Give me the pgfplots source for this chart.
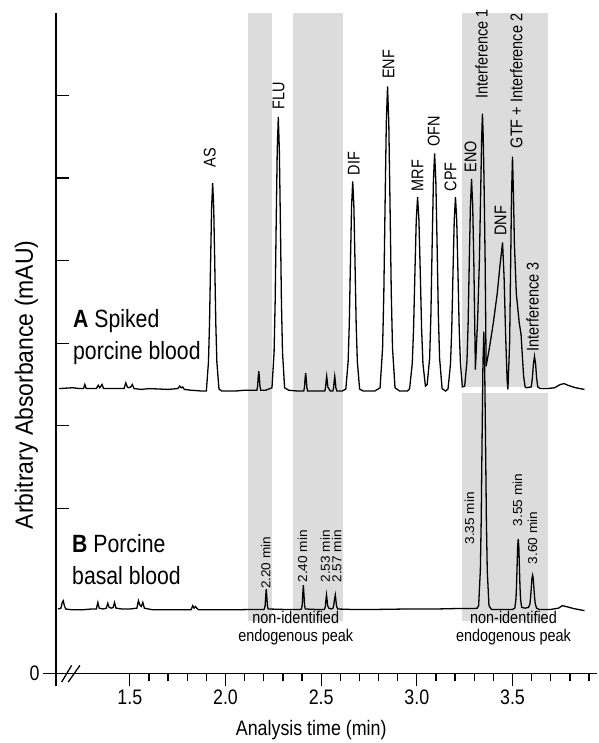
\documentclass[border=0pt]{standalone}
\usepackage{fontspec}
\setmainfont{Liberation Sans}[FakeStretch=0.85]
\newfontfamily\ylabfont{Liberation Sans}[FakeStretch=0.92]
\newfontfamily\minfont{Liberation Sans}[FakeStretch=1.05]
\usepackage{pgfplots}
\pgfplotsset{compat=1.18}

\definecolor{shade}{RGB}{220,220,220}
\newcommand\bigf{\fontsize{25bp}{30bp}\selectfont}
\newcommand\tickf{\fontsize{21bp}{25bp}\selectfont}
\newcommand\labf{\fontsize{17bp}{18bp}\selectfont}
\newcommand\minf{\minfont\fontsize{13bp}{15bp}\selectfont}

\begin{document}
\begin{tikzpicture}
\begin{axis}[
    scale only axis,
    width=542bp, height=661bp,
    xmin=1.114, xmax=3.944,
    ymin=0, ymax=8,
    clip=false,
    axis x line=bottom, axis y line=left,
    axis line style={-, line width=1.5bp},
    every tick/.style={black, line width=1.3bp},
    xtick={1.5,2,2.5,3,3.5},
    xticklabels={1.5,2.0,2.5,3.0,3.5},
    minor xtick={1.6,1.7,1.8,1.9,2.1,2.2,2.3,2.4,2.6,2.7,2.8,2.9,3.1,3.2,3.3,3.4,3.6,3.7,3.8,3.9},
    xtick align=outside,
    major tick length=13bp, minor tick length=8bp,
    extra x ticks={1.114}, extra x tick labels={},
    ytick={2,3,4,5,6,7}, yticklabels={},
    ytick align=inside,
    extra y ticks={0}, extra y tick labels={0},
    extra y tick style={ytick align=outside},
    tick label style={font=\tickf},
    xlabel={Analysis time (min)},
    xlabel style={font=\tickf, at={(axis description cs:0.4714,-0.0938)}, anchor=base},
    ylabel={Arbitrary Absorbance (mAU)},
    ylabel style={font=\ylabfont\fontsize{25bp}{30bp}\selectfont, at={(axis description cs:-0.0424,0.437)}, anchor=base},
]
% shaded windows
\addplot[fill=shade, draw=none] coordinates {(2.116,0.63) (2.241,0.63) (2.241,8) (2.116,8)} -- cycle;
\addplot[fill=shade, draw=none] coordinates {(2.351,0.63) (2.612,0.63) (2.612,8) (2.351,8)} -- cycle;
\addplot[fill=shade, draw=none] coordinates {(3.234,3.47) (3.688,3.47) (3.688,8) (3.234,8)} -- cycle;
\addplot[fill=shade, draw=none] coordinates {(3.234,0.63) (3.688,0.63) (3.688,3.40) (3.234,3.40)} -- cycle;

% A: spiked porcine blood
\addplot[black, line width=1.3bp, mark=none] coordinates {
(1.13,3.45) (1.20,3.46) (1.24,3.45) (1.258,3.45) (1.265,3.50) (1.272,3.45) (1.30,3.45)
(1.325,3.45) (1.335,3.49) (1.343,3.46) (1.355,3.50) (1.363,3.45) (1.40,3.45) (1.44,3.45)
(1.47,3.45) (1.479,3.52) (1.487,3.47) (1.495,3.46) (1.505,3.47) (1.513,3.50) (1.522,3.45)
(1.56,3.44) (1.60,3.45) (1.70,3.44) (1.75,3.45) (1.761,3.48) (1.768,3.46) (1.776,3.47)
(1.785,3.44) (1.82,3.43) (1.88,3.42) (1.90,3.42)
(1.911,3.77) (1.9165,4.23) (1.922,4.96) (1.9275,5.64) (1.933,5.94) (1.9385,5.64)
(1.944,4.96) (1.9495,4.23) (1.955,3.77) (1.966,3.445)
(1.98,3.42) (2.05,3.42) (2.10,3.43) (2.15,3.43)
(2.164,3.43) (2.168,3.48) (2.171,3.59) (2.174,3.66) (2.177,3.59) (2.180,3.48) (2.184,3.43)
(2.21,3.43) (2.243,3.46)
(2.254,3.89) (2.2595,4.49) (2.265,5.45) (2.2705,6.34) (2.276,6.74) (2.2815,6.34)
(2.287,5.45) (2.2925,4.49) (2.298,3.89) (2.309,3.46) (2.33,3.43)
(2.38,3.42) (2.409,3.42) (2.413,3.47) (2.416,3.57) (2.419,3.64) (2.422,3.57) (2.425,3.47) (2.429,3.42)
(2.47,3.42) (2.519,3.42) (2.523,3.46) (2.526,3.54) (2.529,3.60) (2.532,3.54) (2.535,3.47)
(2.540,3.45) (2.548,3.42) (2.561,3.42) (2.565,3.46) (2.568,3.54) (2.571,3.60) (2.574,3.54)
(2.577,3.46) (2.582,3.42) (2.61,3.42) (2.629,3.445)
(2.641,3.78) (2.647,4.23) (2.653,4.97) (2.659,5.66) (2.665,5.96) (2.671,5.66)
(2.677,4.97) (2.683,4.23) (2.689,3.78) (2.701,3.445)
(2.72,3.42) (2.78,3.42) (2.808,3.46)
(2.821,3.94) (2.8275,4.60) (2.834,5.67) (2.8405,6.67) (2.847,7.11) (2.8535,6.67)
(2.860,5.67) (2.8665,4.60) (2.873,3.94) (2.886,3.46)
(2.91,3.42) (2.95,3.42) (2.962,3.445)
(2.976,3.75) (2.983,4.17) (2.990,4.85) (2.997,5.49) (3.004,5.77) (3.011,5.49)
(3.018,4.85) (3.025,4.17) (3.032,3.75) (3.045,3.48) (3.054,3.50)
(3.067,3.82) (3.0735,4.34) (3.080,5.18) (3.0865,5.95) (3.093,6.30) (3.0995,5.95)
(3.106,5.18) (3.1125,4.34) (3.119,3.82) (3.132,3.45)
(3.15,3.42) (3.163,3.445)
(3.176,3.75) (3.1825,4.17) (3.189,4.85) (3.1955,5.49) (3.202,5.77) (3.2085,5.49)
(3.215,4.85) (3.2215,4.17) (3.228,3.75) (3.238,3.47) (3.250,3.48)
(3.262,3.78) (3.268,4.23) (3.274,4.97) (3.280,5.66) (3.286,5.99) (3.292,5.66) (3.298,4.97)
(3.306,3.68) (3.318,4.30) (3.327,5.00) (3.335,6.00) (3.339,6.50) (3.343,6.78) (3.347,6.50)
(3.351,6.00) (3.357,5.00) (3.362,3.72)
(3.38,3.95) (3.40,4.25) (3.42,4.60) (3.435,4.95) (3.448,5.22) (3.456,4.80) (3.464,4.10)
(3.472,3.55) (3.476,3.44)
(3.485,4.00) (3.490,4.90) (3.495,5.80) (3.500,6.26) (3.505,5.80) (3.510,5.20) (3.520,4.60)
(3.535,4.25) (3.545,4.10) (3.550,3.90) (3.558,3.60) (3.566,3.47) (3.573,3.46)
(3.598,3.47) (3.604,3.58) (3.609,3.74) (3.615,3.84) (3.621,3.74) (3.626,3.58) (3.632,3.47)
(3.645,3.45) (3.68,3.45) (3.72,3.46) (3.75,3.50) (3.77,3.51) (3.79,3.49) (3.83,3.46) (3.876,3.44)
};

% B: porcine basal blood
\addplot[black, line width=1.3bp, mark=none] coordinates {
(1.125,0.78) (1.14,0.79) (1.147,0.86) (1.152,0.88) (1.158,0.82) (1.165,0.78) (1.20,0.77)
(1.25,0.77) (1.30,0.78) (1.325,0.78) (1.333,0.86) (1.34,0.79) (1.36,0.78) (1.377,0.79)
(1.385,0.85) (1.392,0.80) (1.405,0.79) (1.413,0.80) (1.42,0.86) (1.428,0.79) (1.46,0.78)
(1.50,0.78) (1.537,0.79) (1.545,0.88) (1.552,0.83) (1.56,0.81) (1.568,0.86) (1.576,0.79)
(1.62,0.77) (1.70,0.77) (1.78,0.77) (1.82,0.77) (1.829,0.82) (1.836,0.79) (1.843,0.81)
(1.85,0.79) (1.86,0.77) (1.95,0.77) (2.05,0.77) (2.15,0.775) (2.20,0.775)
(2.203,0.78) (2.207,0.82) (2.210,0.93) (2.213,1.02) (2.216,0.93) (2.219,0.82) (2.223,0.78)
(2.30,0.775) (2.39,0.775)
(2.397,0.78) (2.401,0.83) (2.404,0.96) (2.407,1.07) (2.410,0.96) (2.413,0.83) (2.417,0.78)
(2.47,0.775) (2.515,0.775)
(2.518,0.78) (2.522,0.81) (2.525,0.89) (2.528,0.95) (2.531,0.89) (2.534,0.82) (2.540,0.79)
(2.552,0.78) (2.562,0.79) (2.566,0.83) (2.570,0.90) (2.574,0.95) (2.577,0.89) (2.580,0.82)
(2.586,0.78) (2.65,0.775) (2.80,0.775) (2.95,0.78) (3.10,0.78) (3.20,0.785) (3.30,0.785)
(3.315,0.79) (3.323,0.82)
(3.332,1.25) (3.3365,1.86) (3.341,2.83) (3.3455,3.74) (3.350,4.14) (3.3545,3.74)
(3.359,2.83) (3.3635,1.86) (3.368,1.25) (3.377,0.82)
(3.39,0.775) (3.45,0.775) (3.50,0.775) (3.512,0.79)
(3.518,0.90) (3.521,1.06) (3.524,1.30) (3.527,1.54) (3.530,1.63) (3.533,1.54) (3.536,1.30)
(3.539,1.06) (3.542,0.90) (3.548,0.80)
(3.565,0.79) (3.584,0.80) (3.591,0.84) (3.5945,0.92) (3.598,1.03) (3.6015,1.15) (3.605,1.19)
(3.6085,1.15) (3.612,1.03) (3.6155,0.92) (3.619,0.84) (3.626,0.79)
(3.64,0.775) (3.70,0.775) (3.74,0.79) (3.76,0.82) (3.78,0.81) (3.82,0.785) (3.876,0.76)
};

% axis break
\draw[line width=1.3bp] (axis cs:1.1438,-0.105) -- (axis cs:1.196,0.097);
\draw[line width=1.3bp] (axis cs:1.178,-0.105) -- (axis cs:1.2393,0.097);

% trace titles
\node[anchor=base west, font=\bigf, inner sep=0pt] at (axis cs:1.203,4.19) {\textbf{A} Spiked};
\node[anchor=base west, font=\bigf, inner sep=0pt] at (axis cs:1.203,3.80) {porcine blood};
\node[anchor=base west, font=\bigf, inner sep=0pt] at (axis cs:1.198,1.465) {\textbf{B} Porcine};
\node[anchor=base west, font=\bigf, inner sep=0pt] at (axis cs:1.198,1.077) {basal blood};

% peak labels
\begin{scope}[every node/.style={rotate=90, anchor=west, font=\labf, inner sep=0pt}]
\node at (axis cs:1.918,6.13) {AS};
\node at (axis cs:2.278,6.83) {FLU};
\node at (axis cs:2.670,6.03) {DIF};
\node at (axis cs:2.852,7.20) {ENF};
\node at (axis cs:3.004,5.84) {MRF};
\node at (axis cs:3.088,6.38) {OFN};
\node at (axis cs:3.176,5.84) {CPF};
\node at (axis cs:3.280,6.07) {ENO};
\node at (axis cs:3.338,6.96) {Interference 1};
\node at (axis cs:3.437,5.30) {DNF};
\node at (axis cs:3.520,6.36) {GTF + Interference 2};
\node at (axis cs:3.605,3.90) {Interference 3};
\end{scope}
\begin{scope}[every node/.style={rotate=90, anchor=west, font=\minf, inner sep=0pt}]
\node at (axis cs:2.210,1.02) {2.20 min};
\node at (axis cs:2.403,1.10) {2.40 min};
\node at (axis cs:2.521,1.10) {2.53 min};
\node at (axis cs:2.581,1.10) {2.57 min};
\node at (axis cs:3.275,1.56) {3.35 min};
\node at (axis cs:3.526,1.78) {3.55 min};
\node at (axis cs:3.605,1.32) {3.60 min};
\end{scope}

\node[align=center, font=\labf, anchor=base] at (axis cs:2.367,0.39) {non-identified\\endogenous peak};
\node[align=center, font=\labf, anchor=base] at (axis cs:3.505,0.39) {non-identified\\endogenous peak};
\end{axis}
\path (current axis.south west) ++(-56bp,-69bp) rectangle ++(598bp,743bp);
\end{tikzpicture}
\end{document}
